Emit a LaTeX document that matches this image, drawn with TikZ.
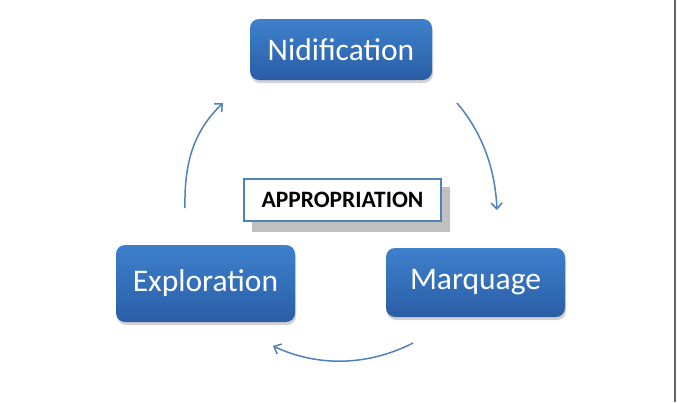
\documentclass[tikz,border=0pt]{standalone}
\usepackage{fontspec}
\setmainfont{Carlito}
\usetikzlibrary{arrows.meta,shadows}
\definecolor{offblue}{HTML}{4F81BD}
\definecolor{topblue}{HTML}{3E80CC}
\definecolor{botblue}{HTML}{2A5EA6}
\definecolor{shgray}{HTML}{C0C0C0}
\tikzset{
  phase/.style={rounded corners=9pt, top color=topblue, bottom color=botblue,
    draw=none, text=white, font=\fontsize{31.5}{34}\selectfont,
    inner sep=0pt, drop shadow={shadow xshift=1pt, shadow yshift=-3pt, opacity=0.35}},
  centerbox/.style={draw=offblue, line width=2.5pt, fill=white, text=black,
    font=\bfseries\fontsize{23.5}{25}\selectfont, minimum width=197pt, minimum height=42pt, inner sep=0pt},
  cyc/.style={draw=offblue, line width=1.5pt, -{Straight Barb[length=6pt,width=11pt,line width=1.5pt]}}
}
\begin{document}
\begin{tikzpicture}[x=1pt,y=-1pt]
\useasboundingbox (0,0) rectangle (677,402);
\fill[white] (0,0) rectangle (677,402);
\draw[gray!80!black, line width=2pt] (675,0) -- (675,402);
\node[phase, minimum width=182pt, minimum height=61pt] (nid) at (341,49.5) {Nidification};
\node[phase, minimum width=179pt, minimum height=77pt] (exp) at (205.5,283.5) {Exploration};
\node[phase, minimum width=179pt, minimum height=69pt] (mar) at (475.5,282.5) {Marquage};
\fill[shgray] (252,187) rectangle (450,232);
\node[centerbox] (app) at (342.5,200) {APPROPRIATION};
\coordinate (a1s) at (185,208);
\coordinate (a1e) at (223,103);
\coordinate (a2s) at (457,103);
\coordinate (a2e) at (497,210);
\coordinate (a3s) at (413,343);
\coordinate (a3e) at (273,346);
\draw[cyc] (a1s) .. controls (184,160) and (195,130) .. (a1e);
\draw[cyc] (a2s) .. controls (480,130) and (495,165) .. (a2e);
\draw[cyc] (a3s) .. controls (370,365) and (320,368) .. (a3e);
\end{tikzpicture}
\end{document}
